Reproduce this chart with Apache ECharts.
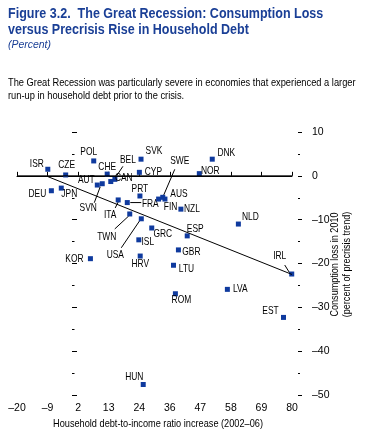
<!DOCTYPE html>
<html>
<head>
<meta charset="utf-8">
<script src="https://cdn.jsdelivr.net/npm/echarts@6/dist/echarts.min.js"></script>
<style>
  html, body { margin: 0; padding: 0; background: #fff; }
  #chart { width: 375px; height: 435px; }
</style>
</head>
<body>
<div id="chart"></div>
<script>
// countries and their points: debt-to-income increase (x), consumption loss (y)
var countries = ['ISR', 'CZE', 'POL', 'SVK', 'CYP', 'CHE', 'BEL', 'CAN', 'AUT', 'SVN',
  'DEU', 'JPN', 'PRT', 'ITA', 'FRA', 'TWN', 'USA', 'GRC', 'ISL', 'KOR', 'HRV',
  'SWE', 'AUS', 'FIN', 'NZL', 'NOR', 'DNK', 'NLD', 'ESP', 'GBR', 'LTU', 'IRL',
  'LVA', 'ROM', 'EST', 'HUN'];
var debtRise = [-8.8, -2.3, 7.9, 25.1, 24.5, 12.8, 15.6, 14.1, 9.2, 11.0,
  -7.5, -3.9, 24.7, 16.8, 20.1, 21.0, 25.2, 29.0, 24.3, 6.7, 24.8,
  33.0, 33.8, 31.5, 39.6, 46.3, 51.0, 60.5, 41.9, 38.7, 36.9, 79.9,
  56.5, 37.6, 76.9, 25.9];
var consumptionLoss = [1.5, 0.2, 3.4, 3.8, 0.8, 0.4, -0.8, -1.3, -2.1, -1.8,
  -3.4, -2.8, -4.6, -5.5, -6.1, -8.7, -9.8, -11.9, -14.6, -18.9, -18.3,
  -4.9, -5.3, -5.3, -7.6, 0.5, 3.8, -11.0, -13.7, -16.9, -20.4, -22.4,
  -25.9, -26.9, -32.3, -47.6];

// fitted line end points
var fitX = [-8.7, 80];
var fitY = [-0.2, -22.5];

var xTickLabels = [-20, -9, 2, 13, 24, 36, 47, 58, 69, 80];
var yTickLabels = [10, 0, -10, -20, -30, -40, -50];

// label centre relative to its marker, px
var labelSpot = {
  ISR: [-11, -5], CZE: [1, -10], POL: [-5, -9], SVK: [13, -8], CYP: [14, 0],
  CHE: [0, -7], BEL: [13, -19], CAN: [13, -3], AUT: [-11, -5], SVN: [-14, 24],
  DEU: [-14, 3], JPN: [8, 6], PRT: [0, -7], ITA: [-8, 15], FRA: [23, 2],
  TWN: [-23, 23], USA: [-26, 36], GRC: [11, 6], ISL: [9, 2], KOR: [-16, 0],
  HRV: [0, 8], SWE: [17, -36], AUS: [14, -5], FIN: [12, 8], NZL: [11, 0],
  NOR: [11, -3], DNK: [14, -6], NLD: [12, -7], ESP: [8, -7], GBR: [13, 2],
  LTU: [13, 4], IRL: [-12, -18], LVA: [13, 0], ROM: [6, 6], EST: [-13, -6],
  HUN: [-9, -7]
};
// leader segments, from/to relative to the marker, px
var leaders = {
  BEL: [2, -4, 8, -13], SVN: [-8, 19, -2, 3], ITA: [-3, 8, 0, 2], FRA: [3, 0, 14, 0],
  TWN: [-15, 15, -1, 2], USA: [-20, 29, -1, 1], SWE: [12, -28, 0, 0], IRL: [-7, -9, -2, -1]
};

var sans = "'Liberation Sans', Arial, sans-serif";
var blue = '#1a3f96';
var markerBlue = '#0f3a9e';
var ink = '#000';

function dash(v) {
  var r = Math.round(v);
  return r < 0 ? '\u2013' + Math.abs(r) : String(r);
}

function drawCountry(params, api) {
  var name = countries[params.dataIndex];
  var p = api.coord([api.value(0), api.value(1)]);
  var s = labelSpot[name];
  var kids = [];
  var l = leaders[name];
  if (l) {
    kids.push({
      type: 'line',
      shape: { x1: p[0] + l[0], y1: p[1] + l[1], x2: p[0] + l[2], y2: p[1] + l[3] },
      style: { stroke: '#000', lineWidth: 1 }
    });
  }
  kids.push({
    type: 'rect',
    shape: { x: p[0] - 2.5, y: p[1] - 2.5, width: 5, height: 5 },
    style: { fill: markerBlue }
  });
  kids.push({
    type: 'text',
    x: p[0] + s[0], y: p[1] + s[1], scaleX: 0.8,
    style: {
      text: name, fontFamily: sans, fontSize: 10.5, fill: ink,
      align: 'center', verticalAlign: 'middle'
    }
  });
  return { type: 'group', children: kids };
}

var chart = echarts.init(document.getElementById('chart'));

chart.setOption({
  animation: false,
  graphic: [
    {
      type: 'text', x: 8, y: 5.5, scaleX: 0.835,
      style: {
        text: 'Figure 3.2.  The Great Recession: Consumption Loss\nversus Precrisis Rise in Household Debt',
        fontFamily: sans, fontWeight: 'bold', fontSize: 15, lineHeight: 16, fill: blue
      }
    },
    {
      type: 'text', x: 8, y: 38.5, scaleX: 0.95,
      style: { text: '(Percent)', fontFamily: sans, fontStyle: 'italic', fontSize: 11, lineHeight: 13, fill: blue }
    },
    {
      type: 'text', x: 8, y: 77, scaleX: 0.885,
      style: {
        text: 'The Great Recession was particularly severe in economies that experienced a larger\nrun-up in household debt prior to the crisis.',
        fontFamily: sans, fontSize: 10.5, lineHeight: 13, fill: ink
      }
    },
    {
      type: 'text', x: 158, y: 424, scaleX: 0.875,
      style: {
        text: 'Household debt-to-income ratio increase (2002\u201306)',
        fontFamily: sans, fontSize: 10.5, fill: ink, align: 'center', verticalAlign: 'middle'
      }
    },
    {
      type: 'text', x: 341.5, y: 264.5, rotation: Math.PI / 2, scaleX: 0.86,
      style: {
        text: 'Consumption loss in 2010\n(percent of precrisis trend)',
        fontFamily: sans, fontSize: 10.5, lineHeight: 12, fill: ink, align: 'center', verticalAlign: 'middle'
      }
    }
  ],
  grid: { left: 17, right: 83, top: 132, bottom: 40 },
  xAxis: {
    type: 'value',
    min: -20, max: 80, interval: 100 / 9,
    axisLine: { show: true, lineStyle: { color: '#000', width: 1 } },
    axisTick: { show: true, inside: true, length: 4, lineStyle: { color: '#000' } },
    axisLabel: {
      margin: 8, fontFamily: sans, fontSize: 10.5, color: ink,
      formatter: function (v) { return dash(v); }
    },
    splitLine: { show: false }
  },
  yAxis: [
    {
      type: 'value', position: 'left',
      min: -50, max: 10, interval: 10,
      axisLine: { show: false },
      axisTick: { show: true, inside: true, length: 5, lineStyle: { color: '#000' } },
      minorTick: { show: true, splitNumber: 2, length: 2.5, lineStyle: { color: '#000' } },
      axisLabel: { show: false },
      splitLine: { show: false }
    },
    {
      type: 'value', position: 'right', offset: 6,
      min: -50, max: 10, interval: 10,
      axisLine: { show: false },
      axisTick: { show: true, inside: false, length: 4, lineStyle: { color: '#000' } },
      minorTick: { show: true, splitNumber: 2, length: 2, lineStyle: { color: '#000' } },
      axisLabel: {
        margin: 14, fontFamily: sans, fontSize: 10.5, color: ink,
        formatter: function (v) { return dash(v); }
      },
      splitLine: { show: false }
    }
  ],
  series: [
    {
      type: 'line',
      data: [[-20, 0], [80, 0]],
      symbol: 'none', silent: true,
      lineStyle: { color: '#000', width: 1 }
    },
    {
      type: 'line',
      data: fitX.map(function (x, i) { return [x, fitY[i]]; }),
      symbol: 'none', silent: true,
      lineStyle: { color: '#000', width: 1 }
    },
    {
      type: 'custom',
      clip: false,
      renderItem: drawCountry,
      data: countries.map(function (c, i) { return [debtRise[i], consumptionLoss[i]]; })
    }
  ]
});
</script>
</body>
</html>
